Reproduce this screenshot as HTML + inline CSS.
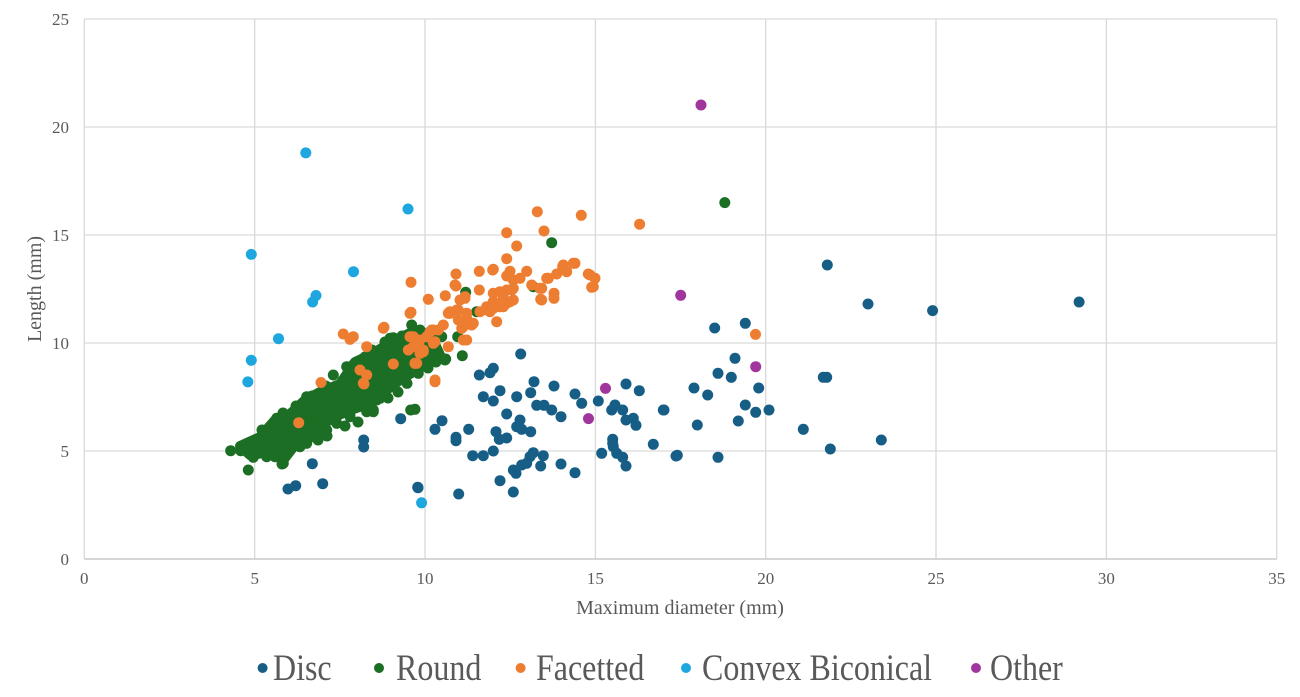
<!DOCTYPE html>
<html><head><meta charset="utf-8"><style>
html,body{margin:0;padding:0;background:#fff;}
svg{display:block;}
text{font-family:"Liberation Serif",serif;fill:#595959;}
</style></head><body>
<svg width="1300" height="697" viewBox="0 0 1300 697" xmlns="http://www.w3.org/2000/svg">
<rect width="1300" height="697" fill="#fff"/>
<g stroke="#d9d9d9" stroke-width="1.3" fill="none">
<line x1="84.3" y1="19" x2="1276.7" y2="19"/>
<line x1="84.3" y1="127" x2="1276.7" y2="127"/>
<line x1="84.3" y1="235" x2="1276.7" y2="235"/>
<line x1="84.3" y1="343" x2="1276.7" y2="343"/>
<line x1="84.3" y1="451" x2="1276.7" y2="451"/>
<line x1="84.3" y1="19" x2="84.3" y2="559"/>
<line x1="254.7" y1="19" x2="254.7" y2="559"/>
<line x1="425" y1="19" x2="425" y2="559"/>
<line x1="595.4" y1="19" x2="595.4" y2="559"/>
<line x1="765.7" y1="19" x2="765.7" y2="559"/>
<line x1="936" y1="19" x2="936" y2="559"/>
<line x1="1106.4" y1="19" x2="1106.4" y2="559"/>
<line x1="1276.7" y1="19" x2="1276.7" y2="559"/>
</g>
<line x1="84.3" y1="559" x2="1276.7" y2="559" stroke="#c8c8c8" stroke-width="1.5"/>
<g font-size="17" text-anchor="end">
<text x="69" y="25">25</text>
<text x="69" y="133">20</text>
<text x="69" y="241">15</text>
<text x="69" y="349">10</text>
<text x="69" y="457">5</text>
<text x="69" y="565">0</text>
</g>
<g font-size="17" text-anchor="middle">
<text x="84.3" y="584">0</text>
<text x="254.7" y="584">5</text>
<text x="425" y="584">10</text>
<text x="595.4" y="584">15</text>
<text x="765.7" y="584">20</text>
<text x="936" y="584">25</text>
<text x="1106.4" y="584">30</text>
<text x="1276.7" y="584">35</text>
</g>
<text x="680" y="614" font-size="20" text-anchor="middle">Maximum diameter (mm)</text>
<text transform="translate(41,289) rotate(-90)" font-size="20" text-anchor="middle">Length (mm)</text>

<!-- Disc -->
<g fill="#175e87">
<circle cx="288" cy="489" r="5.5"/><circle cx="295.7" cy="485.7" r="5.5"/><circle cx="312.3" cy="463.7" r="5.5"/><circle cx="322.7" cy="483.7" r="5.5"/>
<circle cx="363.7" cy="440" r="5.5"/><circle cx="363.7" cy="447" r="5.5"/><circle cx="418" cy="487.7" r="5.5"/>
<circle cx="520.7" cy="354" r="5.5"/><circle cx="479.3" cy="375" r="5.5"/><circle cx="490" cy="372.7" r="5.5"/><circle cx="493.3" cy="368.3" r="5.5"/>
<circle cx="534" cy="381.7" r="5.5"/><circle cx="554" cy="386" r="5.5"/><circle cx="500" cy="390.7" r="5.5"/><circle cx="530.7" cy="392.7" r="5.5"/>
<circle cx="516.7" cy="396.7" r="5.5"/><circle cx="483.3" cy="396.7" r="5.5"/><circle cx="493.3" cy="401" r="5.5"/><circle cx="575" cy="394" r="5.5"/>
<circle cx="581.7" cy="403.3" r="5.5"/><circle cx="598.3" cy="401" r="5.5"/><circle cx="626" cy="384" r="5.5"/><circle cx="639.3" cy="390.7" r="5.5"/>
<circle cx="536.7" cy="405.3" r="5.5"/><circle cx="544" cy="405.3" r="5.5"/><circle cx="551.7" cy="410" r="5.5"/><circle cx="561" cy="416.7" r="5.5"/>
<circle cx="506.7" cy="414" r="5.5"/><circle cx="400.7" cy="418.7" r="5.5"/><circle cx="442" cy="420.7" r="5.5"/><circle cx="435" cy="429.3" r="5.5"/>
<circle cx="520" cy="420" r="5.5"/><circle cx="516.7" cy="426.7" r="5.5"/><circle cx="521.7" cy="429.3" r="5.5"/><circle cx="530.7" cy="431.7" r="5.5"/>
<circle cx="468.7" cy="429.3" r="5.5"/><circle cx="456" cy="437.3" r="5.5"/><circle cx="456" cy="440.7" r="5.5"/>
<circle cx="496" cy="431.7" r="5.5"/><circle cx="499.3" cy="439.3" r="5.5"/><circle cx="506.7" cy="438" r="5.5"/>
<circle cx="615" cy="405" r="5.5"/><circle cx="611.7" cy="410" r="5.5"/><circle cx="622.7" cy="410" r="5.5"/><circle cx="626" cy="420" r="5.5"/><circle cx="633.3" cy="418.3" r="5.5"/><circle cx="636" cy="425.3" r="5.5"/>
<circle cx="663.3" cy="410" r="5.5"/><circle cx="612.7" cy="439.3" r="5.5"/><circle cx="612.7" cy="443.3" r="5.5"/><circle cx="613.3" cy="446.7" r="5.5"/>
<circle cx="653.3" cy="444.3" r="5.5"/><circle cx="676" cy="456" r="5.5"/><circle cx="601.7" cy="453.3" r="5.5"/>
<circle cx="616.7" cy="453.3" r="5.5"/><circle cx="622.7" cy="457.3" r="5.5"/><circle cx="626" cy="466" r="5.5"/>
<circle cx="472.7" cy="455.7" r="5.5"/><circle cx="483.3" cy="455.7" r="5.5"/><circle cx="493.3" cy="451" r="5.5"/>
<circle cx="533.3" cy="452.7" r="5.5"/><circle cx="530" cy="456.7" r="5.5"/><circle cx="543.3" cy="455.7" r="5.5"/>
<circle cx="526.7" cy="463.3" r="5.5"/><circle cx="521.7" cy="465" r="5.5"/><circle cx="540.7" cy="466" r="5.5"/>
<circle cx="561" cy="464" r="5.5"/><circle cx="575" cy="472.7" r="5.5"/><circle cx="513.3" cy="470" r="5.5"/><circle cx="516" cy="473.3" r="5.5"/>
<circle cx="500" cy="480.7" r="5.5"/><circle cx="513.3" cy="492" r="5.5"/><circle cx="458.7" cy="494" r="5.5"/><circle cx="417.7" cy="487.3" r="5.5"/>
<circle cx="827.3" cy="265" r="5.5"/><circle cx="868" cy="304" r="5.5"/><circle cx="932.6" cy="310.6" r="5.5"/><circle cx="1079.1" cy="302" r="5.5"/>
<circle cx="714.7" cy="328" r="5.5"/><circle cx="745.3" cy="323.3" r="5.5"/><circle cx="735" cy="358.3" r="5.5"/><circle cx="718" cy="373.3" r="5.5"/>
<circle cx="731.3" cy="377.3" r="5.5"/><circle cx="694" cy="388" r="5.5"/><circle cx="707.7" cy="395" r="5.5"/><circle cx="758.7" cy="388" r="5.5"/>
<circle cx="823.3" cy="377.3" r="5.5"/><circle cx="826.7" cy="377.3" r="5.5"/><circle cx="664" cy="410" r="5.5"/><circle cx="745.3" cy="405" r="5.5"/>
<circle cx="755.7" cy="412.3" r="5.5"/><circle cx="769" cy="410" r="5.5"/><circle cx="738.3" cy="421" r="5.5"/><circle cx="697.3" cy="425" r="5.5"/>
<circle cx="803.3" cy="429.3" r="5.5"/><circle cx="881.3" cy="440" r="5.5"/><circle cx="830.3" cy="449" r="5.5"/><circle cx="677.3" cy="455.3" r="5.5"/><circle cx="718" cy="457.3" r="5.5"/>
</g>

<!-- Round -->
<g fill="#1d6e25">
<polygon stroke="#1d6e25" stroke-width="10" stroke-linejoin="round" points="240,446 260,437 275,420 290,414 305,400 320,392 340,384 355,362 370,355 390,343 410,333 430,333 440,355 420,368 400,380 380,395 365,405 345,412 330,420 310,432 295,445 285,458 270,452 250,455"/>
<circle cx="724.8" cy="202.6" r="5.5"/><circle cx="551.7" cy="242.7" r="5.5"/><circle cx="465.7" cy="292.3" r="5.5"/><circle cx="476.7" cy="311.7" r="5.5"/>
<circle cx="533.3" cy="286.7" r="5.5"/><circle cx="411.7" cy="325" r="5.5"/><circle cx="445" cy="360" r="5.5"/><circle cx="462.3" cy="355.7" r="5.5"/>
<circle cx="445.7" cy="359" r="5.5"/><circle cx="441.7" cy="336.7" r="5.5"/><circle cx="457.7" cy="336.7" r="5.5"/><circle cx="418.3" cy="373.3" r="5.5"/><circle cx="407" cy="383.3" r="5.5"/>
<circle cx="415" cy="409.3" r="5.5"/><circle cx="390" cy="338.3" r="5.5"/><circle cx="396.7" cy="340" r="5.5"/><circle cx="393.3" cy="337.7" r="5.5"/><circle cx="400" cy="343.3" r="5.5"/>
<circle cx="391.7" cy="338.3" r="5.5"/><circle cx="380" cy="398.3" r="5.5"/><circle cx="360" cy="361.7" r="5.5"/><circle cx="346.7" cy="366.7" r="5.5"/><circle cx="333.3" cy="375" r="5.5"/>
<circle cx="366.7" cy="410" r="5.5"/><circle cx="373.3" cy="410" r="5.5"/><circle cx="350" cy="416" r="5.5"/>
<circle cx="230.7" cy="450.7" r="5.5"/><circle cx="240.7" cy="450.7" r="5.5"/><circle cx="248.3" cy="470" r="5.5"/><circle cx="253.3" cy="457.3" r="5.5"/>
<circle cx="253.3" cy="446.7" r="5.5"/><circle cx="260" cy="446.7" r="5.5"/><circle cx="266.7" cy="456.7" r="5.5"/><circle cx="270" cy="446.7" r="5.5"/>
<circle cx="275" cy="456.7" r="5.5"/><circle cx="281.7" cy="456" r="5.5"/><circle cx="282" cy="464" r="5.5"/><circle cx="283.3" cy="463.3" r="5.5"/>
<circle cx="263.3" cy="451.7" r="5.5"/><circle cx="263.3" cy="440" r="5.5"/><circle cx="273.3" cy="436.7" r="5.5"/><circle cx="278.3" cy="420" r="5.5"/>
<circle cx="286.7" cy="426.7" r="5.5"/><circle cx="280" cy="443.3" r="5.5"/><circle cx="290" cy="450" r="5.5"/><circle cx="300" cy="446.7" r="5.5"/>
<circle cx="306.7" cy="443.3" r="5.5"/><circle cx="313.3" cy="436.7" r="5.5"/><circle cx="320" cy="435" r="5.5"/><circle cx="326.7" cy="430" r="5.5"/>
<circle cx="336.7" cy="423.3" r="5.5"/><circle cx="303.3" cy="413.3" r="5.5"/><circle cx="310" cy="403.3" r="5.5"/><circle cx="306.7" cy="396.7" r="5.5"/>
<circle cx="320" cy="393.3" r="5.5"/><circle cx="330" cy="390" r="5.5"/><circle cx="340" cy="386.7" r="5.5"/><circle cx="346.7" cy="393.3" r="5.5"/>
<circle cx="350" cy="416.7" r="5.5"/><circle cx="356.7" cy="406.7" r="5.5"/><circle cx="366.7" cy="411.7" r="5.5"/><circle cx="373.3" cy="411.7" r="5.5"/>
<circle cx="376.7" cy="400" r="5.5"/><circle cx="370" cy="386.7" r="5.5"/><circle cx="296.7" cy="433.3" r="5.5"/><circle cx="273.3" cy="453.3" r="5.5"/>
<circle cx="293.3" cy="443.3" r="5.5"/><circle cx="286.7" cy="436.7" r="5.5"/><circle cx="306.7" cy="426.7" r="5.5"/><circle cx="316.7" cy="420" r="5.5"/>
<circle cx="330" cy="416.7" r="5.5"/><circle cx="340" cy="410" r="5.5"/><circle cx="336.7" cy="400" r="5.5"/><circle cx="346.7" cy="403.3" r="5.5"/>
<circle cx="276.7" cy="418.3" r="5.5"/><circle cx="290" cy="415" r="5.5"/><circle cx="386" cy="385" r="5.5"/><circle cx="395" cy="372" r="5.5"/>
<circle cx="410.7" cy="410" r="5.5"/><circle cx="380" cy="350" r="5.5"/><circle cx="365" cy="357" r="5.5"/><circle cx="352" cy="366" r="5.5"/>
<circle cx="318" cy="440" r="5.5"/><circle cx="327" cy="436" r="5.5"/><circle cx="345" cy="426" r="5.5"/><circle cx="358" cy="422" r="5.5"/>
<circle cx="388" cy="398" r="5.5"/><circle cx="398" cy="392" r="5.5"/><circle cx="428" cy="368" r="5.5"/><circle cx="436" cy="362" r="5.5"/>
<circle cx="262" cy="430" r="5.5"/><circle cx="283" cy="413" r="5.5"/><circle cx="296" cy="406" r="5.5"/><circle cx="312" cy="396" r="5.5"/>
<circle cx="326" cy="386" r="5.5"/><circle cx="352" cy="370" r="5.5"/><circle cx="372" cy="350" r="5.5"/><circle cx="385" cy="342" r="5.5"/>
<circle cx="402" cy="336" r="5.5"/><circle cx="420" cy="330" r="5.5"/>
</g>

<!-- Facetted -->
<g fill="#ed7d31">
<circle cx="537.3" cy="211.7" r="5.5"/><circle cx="581.3" cy="215.3" r="5.5"/><circle cx="639.6" cy="224.2" r="5.5"/><circle cx="506.7" cy="232.7" r="5.5"/>
<circle cx="544" cy="231" r="5.5"/><circle cx="516.7" cy="246" r="5.5"/><circle cx="506.7" cy="258.7" r="5.5"/><circle cx="411" cy="282.3" r="5.5"/>
<circle cx="456" cy="274" r="5.5"/><circle cx="479.3" cy="271.3" r="5.5"/><circle cx="493.3" cy="269.3" r="5.5"/><circle cx="510" cy="271.3" r="5.5"/>
<circle cx="506.7" cy="276" r="5.5"/><circle cx="526.7" cy="271.3" r="5.5"/><circle cx="520" cy="278.3" r="5.5"/><circle cx="531.7" cy="285" r="5.5"/>
<circle cx="541.7" cy="288.3" r="5.5"/><circle cx="548.3" cy="278.3" r="5.5"/><circle cx="556.7" cy="274" r="5.5"/><circle cx="562.7" cy="266.7" r="5.5"/>
<circle cx="566.7" cy="271.7" r="5.5"/><circle cx="575" cy="263.3" r="5.5"/><circle cx="588.3" cy="274" r="5.5"/><circle cx="595" cy="278.3" r="5.5"/>
<circle cx="591.7" cy="287.3" r="5.5"/><circle cx="554" cy="293.3" r="5.5"/><circle cx="554" cy="298.3" r="5.5"/><circle cx="540.7" cy="299.3" r="5.5"/>
<circle cx="456" cy="286" r="5.5"/><circle cx="479.3" cy="290" r="5.5"/><circle cx="493.3" cy="293.3" r="5.5"/><circle cx="503.3" cy="294" r="5.5"/>
<circle cx="511.7" cy="290" r="5.5"/><circle cx="513.3" cy="300" r="5.5"/><circle cx="506.7" cy="303.3" r="5.5"/><circle cx="500" cy="306.7" r="5.5"/>
<circle cx="493.3" cy="308.3" r="5.5"/><circle cx="445.3" cy="295.7" r="5.5"/><circle cx="428.3" cy="299.3" r="5.5"/><circle cx="411" cy="312.3" r="5.5"/>
<circle cx="460" cy="300" r="5.5"/><circle cx="465" cy="296.7" r="5.5"/><circle cx="456.7" cy="310" r="5.5"/><circle cx="466.7" cy="313.3" r="5.5"/>
<circle cx="473.3" cy="323.3" r="5.5"/><circle cx="463.3" cy="326.7" r="5.5"/><circle cx="466.7" cy="340" r="5.5"/><circle cx="480" cy="311.7" r="5.5"/>
<circle cx="486.7" cy="310" r="5.5"/><circle cx="496.7" cy="321.7" r="5.5"/><circle cx="450" cy="313.3" r="5.5"/><circle cx="443.3" cy="325" r="5.5"/>
<circle cx="433.3" cy="330" r="5.5"/><circle cx="420" cy="340" r="5.5"/><circle cx="413.3" cy="336.7" r="5.5"/><circle cx="413.3" cy="346.7" r="5.5"/>
<circle cx="423.3" cy="350" r="5.5"/><circle cx="416.7" cy="363.3" r="5.5"/><circle cx="393.3" cy="364" r="5.5"/><circle cx="448.3" cy="346.7" r="5.5"/>
<circle cx="384" cy="327.3" r="5.5"/><circle cx="435" cy="380" r="5.5"/><circle cx="755.5" cy="334.4" r="5.5"/>
<circle cx="492.7" cy="270" r="5.5"/><circle cx="513.3" cy="280" r="5.5"/><circle cx="563.3" cy="265" r="5.5"/><circle cx="573.3" cy="263.3" r="5.5"/>
<circle cx="546.7" cy="278.3" r="5.5"/><circle cx="590" cy="275" r="5.5"/><circle cx="593.3" cy="286.7" r="5.5"/><circle cx="540" cy="288.3" r="5.5"/>
<circle cx="541.7" cy="300" r="5.5"/><circle cx="455" cy="285" r="5.5"/><circle cx="465" cy="298.3" r="5.5"/><circle cx="458.3" cy="310" r="5.5"/>
<circle cx="450" cy="311.7" r="5.5"/><circle cx="466.7" cy="318.3" r="5.5"/><circle cx="500" cy="291.7" r="5.5"/><circle cx="506.7" cy="290" r="5.5"/>
<circle cx="513.3" cy="288.3" r="5.5"/><circle cx="503.3" cy="298.3" r="5.5"/><circle cx="510" cy="301.7" r="5.5"/><circle cx="503.3" cy="306.7" r="5.5"/>
<circle cx="493.3" cy="301.7" r="5.5"/><circle cx="486.7" cy="306.7" r="5.5"/><circle cx="490" cy="311.7" r="5.5"/><circle cx="431.7" cy="330" r="5.5"/>
<circle cx="426.7" cy="336.7" r="5.5"/><circle cx="411.7" cy="336.7" r="5.5"/><circle cx="420" cy="353.3" r="5.5"/><circle cx="415" cy="363.3" r="5.5"/>
<circle cx="433.3" cy="343.3" r="5.5"/><circle cx="461.7" cy="328.3" r="5.5"/><circle cx="463.3" cy="340" r="5.5"/><circle cx="471.7" cy="325" r="5.5"/><circle cx="458.3" cy="320" r="5.5"/>
<circle cx="343.3" cy="334" r="5.5"/><circle cx="353.3" cy="336.7" r="5.5"/><circle cx="350" cy="339.3" r="5.5"/><circle cx="383.3" cy="328.3" r="5.5"/>
<circle cx="366.7" cy="346.7" r="5.5"/><circle cx="410" cy="313.3" r="5.5"/><circle cx="360" cy="370" r="5.5"/><circle cx="366.7" cy="375" r="5.5"/>
<circle cx="363.3" cy="383.3" r="5.5"/><circle cx="410" cy="336.7" r="5.5"/><circle cx="408.3" cy="350" r="5.5"/><circle cx="416.7" cy="346.7" r="5.5"/>
<circle cx="423.3" cy="351.7" r="5.5"/><circle cx="415" cy="363.3" r="5.5"/><circle cx="418.3" cy="343.3" r="5.5"/><circle cx="435" cy="381.7" r="5.5"/>
<circle cx="430" cy="331.7" r="5.5"/><circle cx="438.3" cy="330" r="5.5"/><circle cx="435" cy="341.7" r="5.5"/><circle cx="448.3" cy="313.3" r="5.5"/>
<circle cx="298.7" cy="422.7" r="5.5"/><circle cx="321" cy="382.5" r="5.5"/><circle cx="364" cy="384" r="5.5"/>
</g>

<!-- Convex Biconical -->
<g fill="#1ea7df">
<circle cx="305.8" cy="152.9" r="5.5"/><circle cx="408" cy="209" r="5.5"/><circle cx="251.3" cy="254.4" r="5.5"/><circle cx="316" cy="295.5" r="5.5"/>
<circle cx="312.6" cy="302" r="5.5"/><circle cx="353.5" cy="271.7" r="5.5"/><circle cx="278.5" cy="338.7" r="5.5"/><circle cx="251.3" cy="360.3" r="5.5"/>
<circle cx="247.8" cy="381.9" r="5.5"/><circle cx="421.6" cy="502.8" r="5.5"/>
</g>

<!-- Other -->
<g fill="#a1359e">
<circle cx="701" cy="105" r="5.5"/><circle cx="680.7" cy="295.3" r="5.5"/><circle cx="755.7" cy="366.7" r="5.5"/><circle cx="605.5" cy="388.4" r="5.5"/><circle cx="588.5" cy="418.6" r="5.5"/>
</g>

<!-- Legend -->
<circle cx="262.6" cy="668" r="5" fill="#175e87"/>
<circle cx="379" cy="668" r="5" fill="#1d6e25"/>
<circle cx="520.6" cy="668" r="5" fill="#ed7d31"/>
<circle cx="686" cy="668" r="5" fill="#1ea7df"/>
<circle cx="976" cy="668" r="5" fill="#a1359e"/>
<g transform="translate(0,666.5) scale(1,1.15) translate(0,-666.5)" font-size="32">
<text x="273" y="678.2">Disc</text>
<text x="396" y="678.2">Round</text>
<text x="536" y="678.2">Facetted</text>
<text x="702" y="678.2">Convex Biconical</text>
<text x="990" y="678.2">Other</text>
</g>
</svg>
</body></html>
